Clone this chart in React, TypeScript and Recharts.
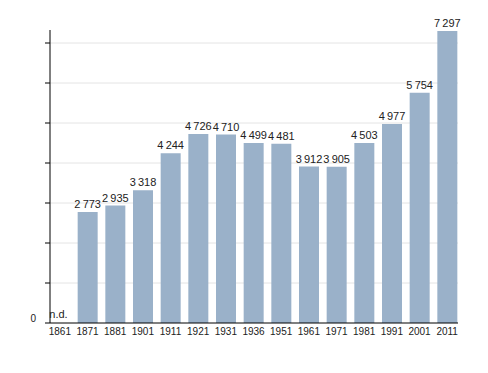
import React from "react";
import { BarChart, Bar, XAxis, YAxis, CartesianGrid, LabelList, ReferenceDot } from "recharts";

// census years (1861 has no data)
const years = ["1861", "1871", "1881", "1901", "1911", "1921", "1931", "1936", "1951", "1961", "1971", "1981", "1991", "2001", "2011"];
const population: (number | null)[] = [null, 2773, 2935, 3318, 4244, 4726, 4710, 4499, 4481, 3912, 3905, 4503, 4977, 5754, 7297];
const yTicks = [0, 1000, 2000, 3000, 4000, 5000, 6000, 7000];
const noDataYear = "1861";

const fmt = (v: number) => String(v).replace(/\B(?=(\d{3})+(?!\d))/g, "\u2009");

const data = years.map((year, i) => ({
  year,
  value: population[i],
  label: population[i] == null ? "" : fmt(population[i] as number),
}));

const BarLabel = (props: any) => {
  const { x, y, width, value } = props;
  if (!value) return null;
  return (
    <text x={x + width / 2} y={y - 4} textAnchor="middle" fontSize={11} fill="#222">
      {value}
    </text>
  );
};

// "n.d." sits left-aligned with where the bar would start
const NoDataLabel = (props: any) => {
  const { viewBox } = props;
  return (
    <text x={viewBox.x - 10.5} y={viewBox.y - 5} textAnchor="start" fontSize={11} fill="#222">
      n.d.
    </text>
  );
};

const YTick = (props: any) => {
  const { x, y, payload } = props;
  if (payload.value !== 0) return <g />;
  return (
    <text x={x} y={y - 1.5} textAnchor="end" fontSize={10} fill="#222">
      0
    </text>
  );
};

export default function App() {
  return (
    <div style={{ position: "absolute", left: 0, top: 0 }}>
      <BarChart
        width={488}
        height={373}
        data={data}
        margin={{ top: 30, right: 30, bottom: 20, left: 0 }}
        barSize={20}
        style={{ fontFamily: "'Liberation Sans', Arial, sans-serif" }}
      >
        <CartesianGrid vertical={false} stroke="#e4e4e4" horizontalValues={yTicks.slice(1)} />
        <XAxis
          dataKey="year"
          height={30}
          padding={{ left: -4, right: -3 }}
          tickLine={false}
          tickSize={0}
          tickMargin={5}
          axisLine={{ stroke: "#000" }}
          tick={{ fontSize: 10, fill: "#222" }}
          interval={0}
        />
        <YAxis
          width={50}
          domain={[0, 7325]}
          ticks={yTicks}
          tickSize={5}
          tickMargin={9}
          axisLine={{ stroke: "#000" }}
          tickLine={{ stroke: "#000" }}
          tick={<YTick />}
          allowDataOverflow
        />
        <Bar dataKey="value" fill="#9ab1c9" isAnimationActive={false}>
          <LabelList dataKey="label" content={<BarLabel />} />
        </Bar>
        <ReferenceDot x={noDataYear} y={0} r={0} fill="none" stroke="none" label={<NoDataLabel />} />
      </BarChart>
    </div>
  );
}
